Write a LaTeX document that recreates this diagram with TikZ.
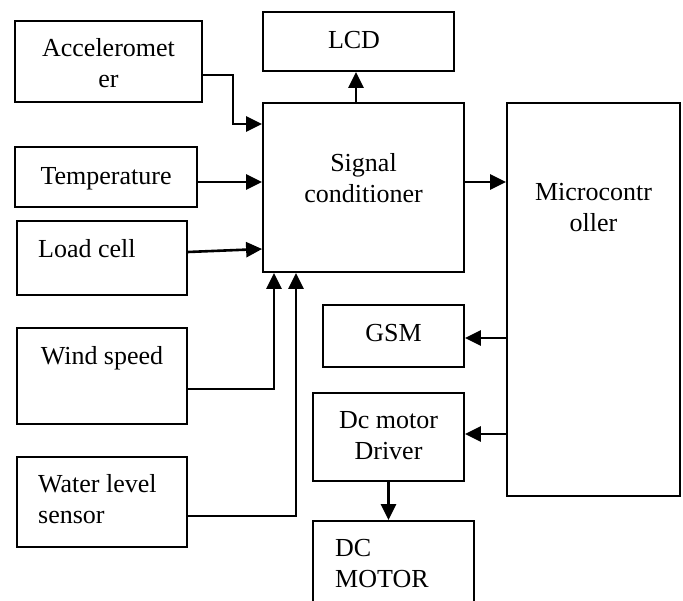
\documentclass[tikz,border=0pt]{standalone}
\usepackage{fontspec}
\setmainfont{Liberation Serif}
\usetikzlibrary{arrows.meta}

\begin{document}
\begin{tikzpicture}[
    x=1pt, y=-1pt,
    blk/.style={draw, line width=1.8pt, inner sep=0pt},
    txt/.style={font=\fontsize{26}{31}\selectfont, inner sep=0pt, anchor=base},
    arr/.style={-{Triangle[length=16pt, width=15pt]}, line width=2.6pt}
]
    % Page frame (reference margins)
    \useasboundingbox (0,0) rectangle (683,601);
    \clip (0,0) rectangle (683,601);

    % Sensor blocks (left column)
    \node[blk, minimum width=187, minimum height=81] (acc)   at (108.5, 61.5) {};
    \node[blk, minimum width=182, minimum height=60] (temp)  at (106, 177)    {};
    \node[blk, minimum width=170, minimum height=74] (load)  at (102, 258)    {};
    \node[blk, minimum width=170, minimum height=96] (wind)  at (102, 376)    {};
    \node[blk, minimum width=170, minimum height=90] (water) at (102, 502)    {};

    % Processing and output blocks
    \node[blk, minimum width=191, minimum height=59]  (lcd)   at (358.5, 41.5)  {};
    \node[blk, minimum width=201, minimum height=169] (sig)   at (363.5, 187.5) {};
    \node[blk, minimum width=173, minimum height=393] (mcu)   at (593.5, 299.5) {};
    \node[blk, minimum width=141, minimum height=62]  (gsm)   at (393.5, 336)   {};
    \node[blk, minimum width=151, minimum height=88]  (drv)   at (388.5, 437)   {};
    \node[blk, minimum width=161, minimum height=99]  (motor) at (393.5, 570.5) {};

    % Block texts (base = last line)
    \node[txt, align=center] (acc-t)   at (108.5, 88) {Acceleromet\\er};
    \node[txt]               (temp-t)  at (106, 185)  {Temperature};
    \node[txt, anchor=base west] (load-t) at (38, 258) {Load cell};
    \node[txt]               (wind-t)  at (102, 365)  {Wind speed};
    \node[txt, align=left, anchor=base west] (water-t) at (38, 523) {Water level\\sensor};
    \node[txt]               (lcd-t)   at (354, 49)   {LCD};
    \node[txt, align=center] (sig-t)   at (363.5, 203) {Signal\\conditioner};
    \node[txt, align=center] (mcu-t)   at (593.5, 232) {Microcontr\\oller};
    \node[txt]               (gsm-t)   at (393.5, 342) {GSM};
    \node[txt, align=center] (drv-t)   at (388.5, 460) {Dc motor\\Driver};
    \node[txt, align=left, anchor=base west] (motor-t) at (335, 587) {DC\\MOTOR};

    % Sensors into the signal conditioner
    \draw[arr] ([yshift=-13.5pt]acc.east) -- ++(30,0) |- ([yshift=63.5pt]sig.west);
    \draw[arr] ([yshift=-5pt]temp.east) -- ([yshift=5.5pt]sig.west);
    \draw[arr] ([yshift=6pt]load.east) -- ([yshift=-61.5pt]sig.west);
    \draw[arr] ([yshift=-13pt]wind.east) -| ([xshift=-89.5pt]sig.south);
    \draw[arr] ([yshift=-14pt]water.east) -| ([xshift=-67.5pt]sig.south);

    % Signal conditioner outputs
    \draw[arr] ([xshift=-7.5pt]sig.north) -- ([xshift=-7.5pt]sig.north |- lcd.south);
    \draw[arr] ([yshift=5.5pt]sig.east) -- ([yshift=5.5pt]sig.east -| mcu.west);

    % Microcontroller outputs
    \draw[arr] ([yshift=-38.5pt]mcu.west) -- ([yshift=-38.5pt]mcu.west -| gsm.east);
    \draw[arr] ([yshift=-134.5pt]mcu.west) -- ([yshift=-134.5pt]mcu.west -| drv.east);
    \draw[arr] (drv.south) -- (drv.south |- motor.north);
\end{tikzpicture}
\end{document}
